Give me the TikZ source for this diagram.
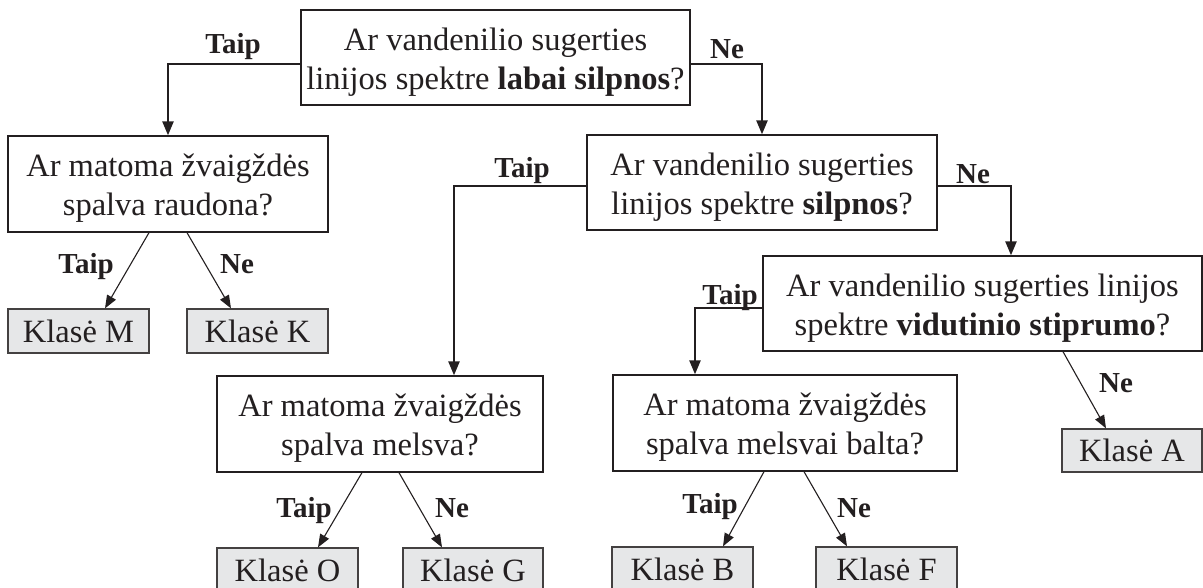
\documentclass[tikz,border=0pt]{standalone}
\usepackage{fontspec}
\setmainfont{Liberation Serif}
\usetikzlibrary{arrows.meta}
\newcommand\mfont{\fontsize{32.5}{39}\selectfont}
\newcommand\lfont{\fontsize{29}{30}\selectfont\bfseries}
\newcommand\topstrut{\rule{0pt}{31pt}}
\definecolor{boxgray}{HTML}{E6E7E8}
\definecolor{edge}{HTML}{231F20}
\tikzset{
  qbox/.style={draw=edge, line width=1.3pt, fill=white, align=center, inner sep=0pt, font=\mfont, text=edge},
  cbox/.style={draw=edge!85, line width=1.3pt, fill=boxgray, inner sep=0pt, font=\mfont, text=edge},
  thickarr/.style={draw=edge, line width=2.4pt, -{Triangle[length=14pt,width=11pt]}},
  thinarr/.style={draw=edge, line width=1.1pt, -{Triangle[length=13pt,width=10pt]}},
  lbl/.style={font=\lfont, text=edge, anchor=base, inner sep=0pt}
}
\begin{document}
\begin{tikzpicture}[x=1pt,y=-1pt]
\clip (0,0) rectangle (1203,587);
% questions
\node[qbox, minimum width=389, minimum height=95] (q1) at (495.5,57.5)
  {\topstrut Ar vandenilio sugerties\\linijos spektre \textbf{labai silpnos}?};
\node[qbox, minimum width=320, minimum height=96] (q2) at (168,184)
  {\topstrut Ar matoma žvaigždės\\spalva raudona?};
\node[qbox, minimum width=350, minimum height=95] (q3) at (762,182.5)
  {\topstrut Ar vandenilio sugerties\\linijos spektre \textbf{silpnos}?};
\node[qbox, minimum width=439, minimum height=95] (q4) at (982.5,303.5)
  {\topstrut Ar vandenilio sugerties linijos\\spektre \textbf{vidutinio stiprumo}?};
\node[qbox, minimum width=326, minimum height=96] (q5) at (380,424)
  {\topstrut Ar matoma žvaigždės\\spalva melsva?};
\node[qbox, minimum width=344, minimum height=96] (q6) at (785,423)
  {\topstrut Ar matoma žvaigždės\\spalva melsvai balta?};
% classes
\node[cbox, minimum width=141, minimum height=44] (kM) at (78.5,331) {Klasė M};
\node[cbox, minimum width=141, minimum height=44] (kK) at (257.5,331) {Klasė K};
\node[cbox, minimum width=141, minimum height=44] (kO) at (287.5,570) {Klasė O};
\node[cbox, minimum width=140, minimum height=44] (kG) at (473,570) {Klasė G};
\node[cbox, minimum width=141, minimum height=44] (kB) at (682.5,569) {Klasė B};
\node[cbox, minimum width=141, minimum height=44] (kF) at (886.5,569) {Klasė F};
\node[cbox, minimum width=140, minimum height=43] (kA) at (1132,450.5) {Klasė A};
% thick connectors
\draw[thickarr] (q1.west |- 0,64) -| (q2.north);
\draw[thickarr] (q1.east |- 0,64) -| (q3.north);
\draw[thickarr] (q3.west |- 0,186) -| (q5.north -| 454,0);
\draw[thickarr] (q3.east |- 0,186) -| (q4.north -| 1011,0);
\draw[thickarr] (q4.west |- 0,308) -| (q6.north -| 695,0);
% thin connectors
\draw[thinarr] (q2.south -| 149,0) -- (kM.north -| 105,0);
\draw[thinarr] (q2.south -| 187,0) -- (kK.north -| 231,0);
\draw[thinarr] (q5.south -| 362,0) -- (kO.north -| 318,0);
\draw[thinarr] (q5.south -| 399,0) -- (kG.north -| 442,0);
\draw[thinarr] (q6.south -| 764,0) -- (kB.north -| 723,0);
\draw[thinarr] (q6.south -| 804,0) -- (kF.north -| 847,0);
\draw[thinarr] (q4.south -| 1063,0) -- (kA.north -| 1106,0);
% labels
\node[lbl] (t1) at (233,53) {Taip};
\node[lbl] (n1) at (727,58) {Ne};
\node[lbl] (t3) at (522,177) {Taip};
\node[lbl] (n3) at (973,183) {Ne};
\node[lbl] (t4) at (730,304) {Taip};
\node[lbl] (n4) at (1116,392) {Ne};
\node[lbl] (t2) at (86,273) {Taip};
\node[lbl] (n2) at (237,273) {Ne};
\node[lbl] (t5) at (304,517) {Taip};
\node[lbl] (n5) at (452,517) {Ne};
\node[lbl] (t6) at (710,513) {Taip};
\node[lbl] (n6) at (854,517) {Ne};
\end{tikzpicture}
\end{document}
